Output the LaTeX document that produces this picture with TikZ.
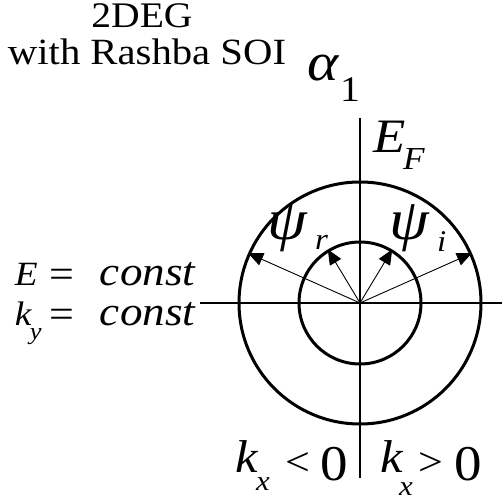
\documentclass[tikz,border=0pt]{standalone}
\usepackage{fontspec}
\setmainfont{Liberation Serif}[FakeStretch=1.1]
\usetikzlibrary{arrows.meta,positioning}
\newcommand{\fsz}[1]{\fontsize{#1}{#1}\selectfont}

\begin{document}
\begin{tikzpicture}[x=1pt,y=1pt,
    txt/.style={inner sep=0pt,outer sep=0pt},
    sym/.style={txt,font=\itshape},
    band/.style={draw,circle,line width=3pt,inner sep=0pt},
    axis/.style={line width=1.4pt},
    vec/.style={line width=0.9pt,-{Triangle[length=15pt,width=13pt]}}]
\useasboundingbox (-360,-197) rectangle (142,303);
\coordinate (O) at (0,0);
\coordinate (xl) at (-160,0);
\coordinate (xr) at (142,0);
\coordinate (yt) at (0,185);
\coordinate (yb) at (0,-175);
% axes
\draw[axis] (xl) -- (xr);
\draw[axis] (yb) -- (yt);
% Fermi circles
\node[band,minimum size=242pt] (outer) at (O) {};
\node[band,minimum size=122pt] (inner) at (O) {};
% spinor directions
\draw[vec] (O) -- (outer.156);
\draw[vec] (O) -- (outer.24);
\draw[vec] (O) -- (inner.121);
\draw[vec] (O) -- (inner.59);
% title
\node[txt,anchor=base] (deg) at (-218,275) {\fsz{36}2DEG};
\node[txt,anchor=base west] (soi) at (-352,238) {\fsz{37}with Rashba SOI};
\node[sym,anchor=base west] (alpha) at (-53,222) {\fsz{54}α};
\node[txt,anchor=base west] (alphaidx) at (-20,201) {\fsz{36}1};
% Fermi energy
\node[sym,anchor=base west] (EF) at (13,150) {\fsz{48}E};
\node[sym,anchor=base west] (EFidx) at (43,133) {\fsz{32}F};
% waves
\node[sym,anchor=base west] (psir) at (-93,63) {\fsz{58}ψ};
\node[sym,anchor=base west] (psiridx) at (-45,53) {\fsz{30}r};
\node[sym,anchor=base west] (psii) at (29,63) {\fsz{58}ψ};
\node[sym,anchor=base west] (psiiidx) at (77,51) {\fsz{30}i};
% conditions
\node[sym,anchor=base west] (E) at (-345,18) {\fsz{34}E};
\node[txt,anchor=base west] (Eeq) at (-310,16) {\fsz{40}=};
\node[sym,anchor=base west] (Ec) at (-260,18) {\fsz{41}const};
\node[sym,anchor=base west] (ky) at (-345,-22) {\fsz{34}k};
\node[sym,anchor=base west] (kyidx) at (-330,-36) {\fsz{24}y};
\node[txt,anchor=base west] (kyeq) at (-310,-24) {\fsz{40}=};
\node[sym,anchor=base west] (kyc) at (-260,-22) {\fsz{41}const};
% half planes
\node[sym,anchor=base west] (kl) at (-125,-169) {\fsz{46}k};
\node[sym,anchor=base west] (klidx) at (-104,-187) {\fsz{28}x};
\node[txt,anchor=base west] (lt) at (-75,-172) {\fsz{40}<};
\node[txt,anchor=base west] (lz) at (-40,-177) {\fsz{50}0};
\node[sym,anchor=base west] (kr) at (20,-169) {\fsz{46}k};
\node[sym,anchor=base west] (kridx) at (39,-192) {\fsz{28}x};
\node[txt,anchor=base west] (gt) at (58,-172) {\fsz{40}>};
\node[txt,anchor=base west] (rz) at (94,-177) {\fsz{50}0};
\end{tikzpicture}
\end{document}
